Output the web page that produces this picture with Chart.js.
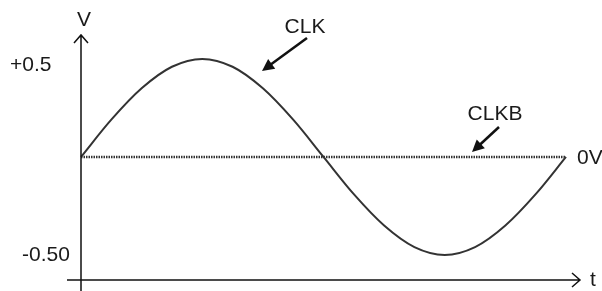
<!DOCTYPE html>
<html>
<head>
<meta charset="utf-8">
<script src="https://cdn.jsdelivr.net/npm/chart.js@4"></script>
<style>
  html, body { margin: 0; padding: 0; background: #fff; }
  canvas { display: block; }
</style>
</head>
<body>
<canvas id="clkChart" width="602" height="291"></canvas>
<script>
// Phase in degrees and CLK voltage
const phase = [0, 22.5, 45, 67.5, 90, 112.5, 135, 157.5, 180, 202.5, 225, 247.5, 270, 292.5, 315, 337.5, 360];
const clk = [0, 0.19, 0.35, 0.46, 0.5, 0.46, 0.35, 0.19, 0, -0.19, -0.35, -0.46, -0.5, -0.46, -0.35, -0.19, 0];
// CLKB sits flat at 0V
const clkbPhase = [0, 360];
const clkb = [0, 0];

const FONT = '21px "Liberation Sans", Arial, sans-serif';

// Axes, arrows and labels drawn on top of the plot
const annotations = {
    id: 'annotations',
    afterDraw(chart) {
        const ctx = chart.ctx;
        const x = chart.scales.x, y = chart.scales.y;
        const x0 = x.getPixelForValue(0);
        const y0 = y.getPixelForValue(-0.628);
        const top = chart.chartArea.top;
        const right = chart.chartArea.right;

        ctx.save();
        ctx.strokeStyle = '#111';
        ctx.lineWidth = 1.5;
        ctx.beginPath();
        // y axis
        ctx.moveTo(x0, top); ctx.lineTo(x0, 291);
        // x axis
        ctx.moveTo(x0 - 14, y0); ctx.lineTo(right, y0);
        // open arrow heads
        ctx.moveTo(x0 - 7, top + 8); ctx.lineTo(x0, top); ctx.lineTo(x0 + 7, top + 8);
        ctx.moveTo(right - 8, y0 - 7); ctx.lineTo(right, y0); ctx.lineTo(right - 8, y0 + 7);
        ctx.stroke();

        // filled pointer arrows
        const pointer = (fx, fy, tx, ty) => {
            const a = Math.atan2(ty - fy, tx - fx);
            const len = 12, w = 6;
            ctx.strokeStyle = '#111';
            ctx.lineWidth = 2.5;
            ctx.beginPath();
            ctx.moveTo(fx, fy);
            ctx.lineTo(tx - Math.cos(a) * len * 0.8, ty - Math.sin(a) * len * 0.8);
            ctx.stroke();
            ctx.fillStyle = '#111';
            ctx.beginPath();
            ctx.moveTo(tx, ty);
            ctx.lineTo(tx - Math.cos(a) * len - Math.sin(a) * w, ty - Math.sin(a) * len + Math.cos(a) * w);
            ctx.lineTo(tx - Math.cos(a) * len + Math.sin(a) * w, ty - Math.sin(a) * len - Math.cos(a) * w);
            ctx.closePath();
            ctx.fill();
        };
        pointer(307, 38, 262, 71);
        pointer(499, 127, 472, 152);

        ctx.fillStyle = '#1a1a1a';
        ctx.font = FONT;
        ctx.textBaseline = 'middle';
        ctx.textAlign = 'center';
        ctx.fillText('V', x0 + 3, 20);
        ctx.fillText('CLK', 305, 27);
        ctx.fillText('CLKB', 495, 114);
        ctx.textAlign = 'left';
        ctx.fillText('+0.5', 10, 65);
        ctx.fillText('-0.50', 22, 255);
        ctx.fillText('0V', 577, y.getPixelForValue(0) + 1);
        ctx.fillText('t', 590, y0);
        ctx.restore();
    }
};

new Chart(document.getElementById('clkChart').getContext('2d'), {
    type: 'line',
    data: {
        datasets: [
            {
                label: 'CLK',
                data: phase.map((p, i) => ({ x: p, y: clk[i] })),
                borderColor: '#333',
                borderWidth: 2,
                pointRadius: 0,
                cubicInterpolationMode: 'monotone',
                fill: false
            },
            {
                label: 'CLKB',
                data: clkbPhase.map((p, i) => ({ x: p, y: clkb[i] })),
                borderColor: '#333',
                borderWidth: 2.5,
                borderDash: [1.5, 1],
                pointRadius: 0,
                fill: false
            }
        ]
    },
    options: {
        responsive: false,
        animation: false,
        clip: false,
        layout: { padding: { left: 81, right: 22, top: 35, bottom: 11 } },
        scales: {
            x: { type: 'linear', min: 0, max: 370.4, display: false },
            y: { min: -0.628, max: 0.622, display: false }
        },
        plugins: {
            legend: { display: false },
            tooltip: { enabled: false }
        }
    },
    plugins: [annotations]
});
</script>
</body>
</html>
